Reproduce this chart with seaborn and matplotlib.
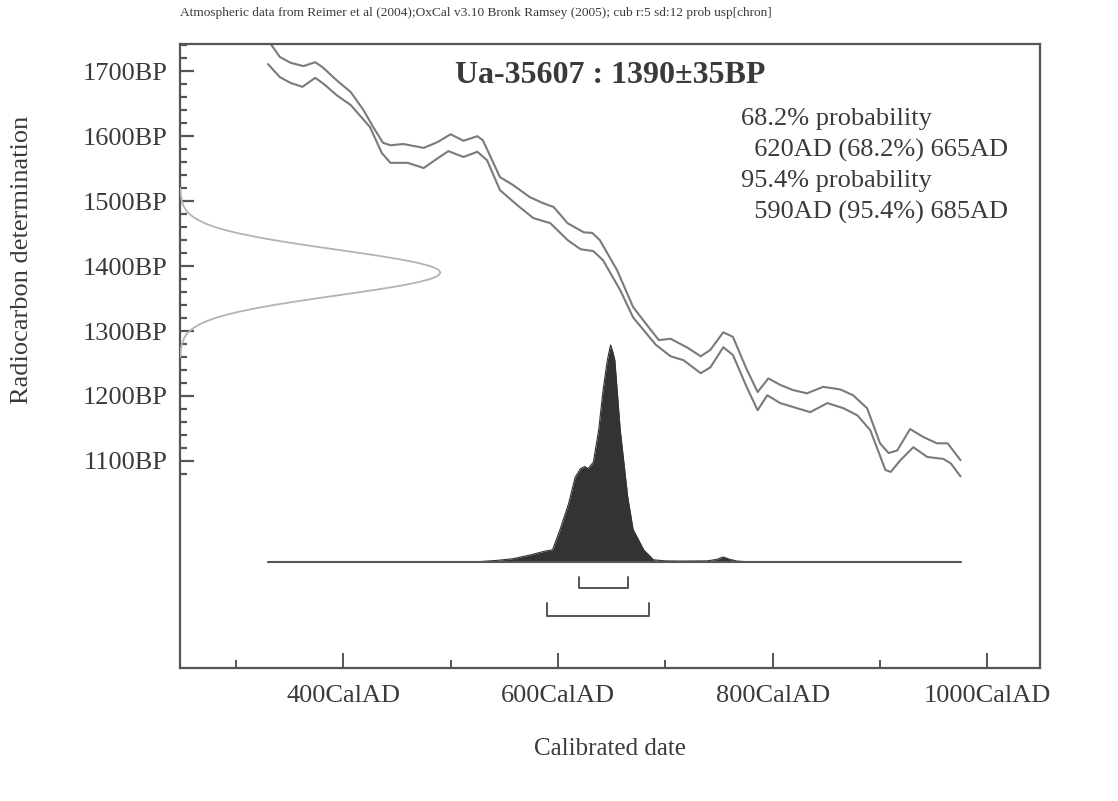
import numpy as np
import pandas as pd
import matplotlib
matplotlib.use("Agg")
import matplotlib.pyplot as plt
import seaborn as sns
from matplotlib.ticker import FixedLocator, FuncFormatter

# ---------------- data ----------------
sample_id = "Ua-35607"
c14_age = 1390
c14_err = 35

# calibration curve (IntCal04, +/- 1 sigma)
upper_year = [330, 341, 351, 363, 374, 381, 394, 407, 419, 428, 437, 444, 456, 475, 488, 500,
              512, 525, 530, 546, 558, 574, 586, 596, 609, 624, 632, 639, 655, 670, 683, 694,
              705, 721, 733, 742, 754, 763, 775, 786, 796, 807, 819, 832, 847, 863, 875, 888,
              900, 908, 916, 928, 940, 953, 963, 975]
upper_bp = [1748, 1722, 1713, 1708, 1714, 1706, 1686, 1668, 1640, 1614, 1590, 1586, 1588, 1582, 1591, 1603,
            1593, 1600, 1594, 1537, 1525, 1506, 1497, 1491, 1466, 1452, 1451, 1440, 1394, 1337, 1309, 1286,
            1288, 1274, 1261, 1271, 1298, 1291, 1244, 1206, 1227, 1217, 1209, 1204, 1214, 1210, 1201, 1181,
            1127, 1112, 1116, 1149, 1137, 1127, 1127, 1101]
lower_year = [330, 341, 351, 362, 374, 383, 394, 407, 425, 436, 444, 460, 475, 488, 498, 512,
              525, 534, 546, 562, 577, 593, 609, 621, 633, 642, 658, 670, 680, 691, 705, 717,
              733, 742, 754, 763, 776, 786, 795, 807, 819, 835, 851, 866, 879, 891, 905, 910,
              919, 931, 944, 959, 966, 975]
lower_bp = [1711, 1691, 1682, 1676, 1690, 1679, 1663, 1648, 1614, 1574, 1559, 1559, 1551, 1566, 1577, 1568,
            1576, 1563, 1517, 1494, 1474, 1466, 1440, 1426, 1423, 1409, 1363, 1321, 1301, 1279, 1261, 1255,
            1235, 1244, 1275, 1263, 1213, 1178, 1201, 1189, 1183, 1175, 1189, 1181, 1170, 1147, 1086, 1083,
            1101, 1121, 1106, 1103, 1096, 1076]

gauss_bp = [1520, 1510, 1500, 1495, 1490, 1485, 1480, 1475, 1470, 1465, 1460, 1455, 1450, 1445,
            1440, 1435, 1430, 1425, 1420, 1415, 1410, 1405, 1400, 1395, 1390, 1385, 1380, 1375,
            1370, 1365, 1360, 1355, 1350, 1345, 1340, 1335, 1330, 1325, 1320, 1315, 1310, 1305,
            1300, 1295, 1290, 1280, 1270, 1260]
gauss_h = [0.001, 0.003, 0.007, 0.011, 0.017, 0.025, 0.037, 0.053, 0.074, 0.101, 0.135, 0.178,
           0.230, 0.291, 0.360, 0.437, 0.520, 0.607, 0.693, 0.775, 0.849, 0.912, 0.960, 0.990,
           1.0, 0.990, 0.960, 0.912, 0.849, 0.775, 0.693, 0.607, 0.520, 0.437, 0.360, 0.291,
           0.230, 0.178, 0.135, 0.101, 0.074, 0.053, 0.037, 0.025, 0.017, 0.007, 0.003, 0.001]

# calibrated probability distribution
dist_year = [330, 500, 528, 545, 558, 574, 588, 595, 602, 610, 616, 621, 625, 628, 633, 638,
             642, 646, 649, 651, 653, 658, 665, 670, 680, 689, 700, 714, 739, 748, 754, 760,
             767, 780, 975]
dist_p = [0.0, 0.0, 0.002, 0.008, 0.015, 0.032, 0.05, 0.056, 0.15, 0.27, 0.39, 0.43, 0.44, 0.43, 0.46, 0.61,
          0.79, 0.93, 1.0, 0.97, 0.93, 0.61, 0.30, 0.15, 0.055, 0.01, 0.005, 0.004, 0.005, 0.012, 0.023, 0.012,
          0.004, 0.0, 0.0]

hpd68 = (620, 665)
hpd95 = (590, 685)

x_ticks_major = [400, 600, 800, 1000]
x_ticks_minor = [300, 500, 700, 900]
y_ticks_major = [1100, 1200, 1300, 1400, 1500, 1600, 1700]
y_ticks_minor = [1080, 1120, 1140, 1160, 1180, 1220, 1240, 1260, 1280, 1320, 1340, 1360, 1380,
                 1420, 1440, 1460, 1480, 1520, 1540, 1560, 1580, 1620, 1640, 1660, 1680, 1720, 1740]

header = ("Atmospheric data from Reimer et al (2004);OxCal v3.10 Bronk Ramsey (2005); "
          "cub r:5 sd:12 prob usp[chron]")
prob_lines = ["68.2% probability", "  620AD (68.2%) 665AD",
              "95.4% probability", "  590AD (95.4%) 685AD"]

# ---------------- style ----------------
sns.set_theme(style="white")
plt.rcParams["font.family"] = ["Liberation Serif", "DejaVu Serif"]
TXT = "#3a3a3a"
AXC = "#555555"
CURVE = "#7a7a7a"

W, H = 1118, 801
fig = plt.figure(figsize=(W / 100, H / 100), dpi=100)
fig.patch.set_facecolor("white")
ax_left, ax_right, ax_top, ax_bot = 180, 1040, 44, 668
pos = [ax_left / W, 1 - ax_bot / H, (ax_right - ax_left) / W, (ax_bot - ax_top) / H]
ax = fig.add_axes(pos)
ax.set_xlim(248, 1049)
ax.set_ylim(781, 1742)

# calibration curve
cal = pd.concat([
    pd.DataFrame({"year": upper_year, "bp": upper_bp, "band": "upper"}),
    pd.DataFrame({"year": lower_year, "bp": lower_bp, "band": "lower"}),
])
sns.lineplot(data=cal, x="year", y="bp", hue="band", palette=[CURVE, CURVE],
             estimator=None, sort=False, legend=False, linewidth=1.5, ax=ax)
for ln in ax.lines:
    ln.set_solid_joinstyle("round")

# radiocarbon gaussian on the left
axg = fig.add_axes(pos, sharey=ax)
axg.set_xlim(0, 3.3)
axg.patch.set_alpha(0)
axg.axis("off")
gdf = pd.DataFrame({"h": gauss_h, "bp": gauss_bp})
sns.lineplot(data=gdf, x="h", y="bp", estimator=None, sort=False, color="#b3b3b3",
             linewidth=1.3, ax=axg)

# calibrated distribution
axd = fig.add_axes(pos, sharex=ax)
axd.set_ylim(-0.4887, 2.387)
axd.patch.set_alpha(0)
axd.axis("off")
axd.fill_between(dist_year, dist_p, 0, color="#333333", linewidth=0)
ddf = pd.DataFrame({"year": dist_year, "p": dist_p})
sns.lineplot(data=ddf, x="year", y="p", estimator=None, sort=False, color="#333333",
             linewidth=0.8, ax=axd)
axd.plot([dist_year[0], dist_year[-1]], [0, 0], color=AXC, linewidth=1.5)

# hpd brackets
for (lo, hi), top, bot in [(hpd68, -0.069, -0.120), (hpd95, -0.189, -0.249)]:
    axd.plot([lo, lo, hi, hi], [top, bot, bot, top], color=AXC, linewidth=1.4)

# axes styling
for sp in ax.spines.values():
    sp.set_visible(True)
    sp.set_color(AXC)
    sp.set_linewidth(1.6)
ax.set_facecolor("white")

ax.xaxis.set_major_locator(FixedLocator(x_ticks_major))
ax.xaxis.set_minor_locator(FixedLocator(x_ticks_minor))
ax.yaxis.set_major_locator(FixedLocator(y_ticks_major))
ax.yaxis.set_minor_locator(FixedLocator(y_ticks_minor))
ax.xaxis.set_major_formatter(FuncFormatter(lambda v, p: f"{int(v)}CalAD"))
ax.yaxis.set_major_formatter(FuncFormatter(lambda v, p: f"{int(v)}BP"))
ax.tick_params(axis="x", which="major", direction="in", length=11, width=1.4, color=AXC,
               labelsize=19, labelcolor=TXT, pad=12, bottom=True)
ax.tick_params(axis="x", which="minor", direction="in", length=6, width=1.4, color=AXC, bottom=True)
ax.tick_params(axis="y", which="major", direction="in", length=10, width=1.6, color=AXC,
               labelsize=19, labelcolor=TXT, pad=9, left=True)
ax.tick_params(axis="y", which="minor", direction="in", length=5, width=1.6, color=AXC, left=True)

ax.set_xlabel("Calibrated date", fontsize=18, color=TXT)
ax.set_ylabel("Radiocarbon determination", fontsize=19, color=TXT)
ax.xaxis.set_label_coords(0.5, -0.112)
ax.yaxis.set_label_coords(-0.171, 0.654)

# texts
fig.text(ax_left / W, 1 - 13 / H, header, fontsize=9.6, color=TXT, ha="left", va="center")
ax.text(0.5, 0.950, f"{sample_id} : {c14_age}\u00b1{c14_err}BP", transform=ax.transAxes,
        fontsize=23, fontweight="bold", color=TXT, ha="center", va="center")
ys = [119, 150, 181, 212]
for line, yp in zip(prob_lines, ys):
    ax.text((741 - ax_left) / (ax_right - ax_left), (ax_bot - yp) / (ax_bot - ax_top), line,
            transform=ax.transAxes, fontsize=19, color=TXT, ha="left", va="center")

fig.savefig("out.png", dpi=100, facecolor="white")
